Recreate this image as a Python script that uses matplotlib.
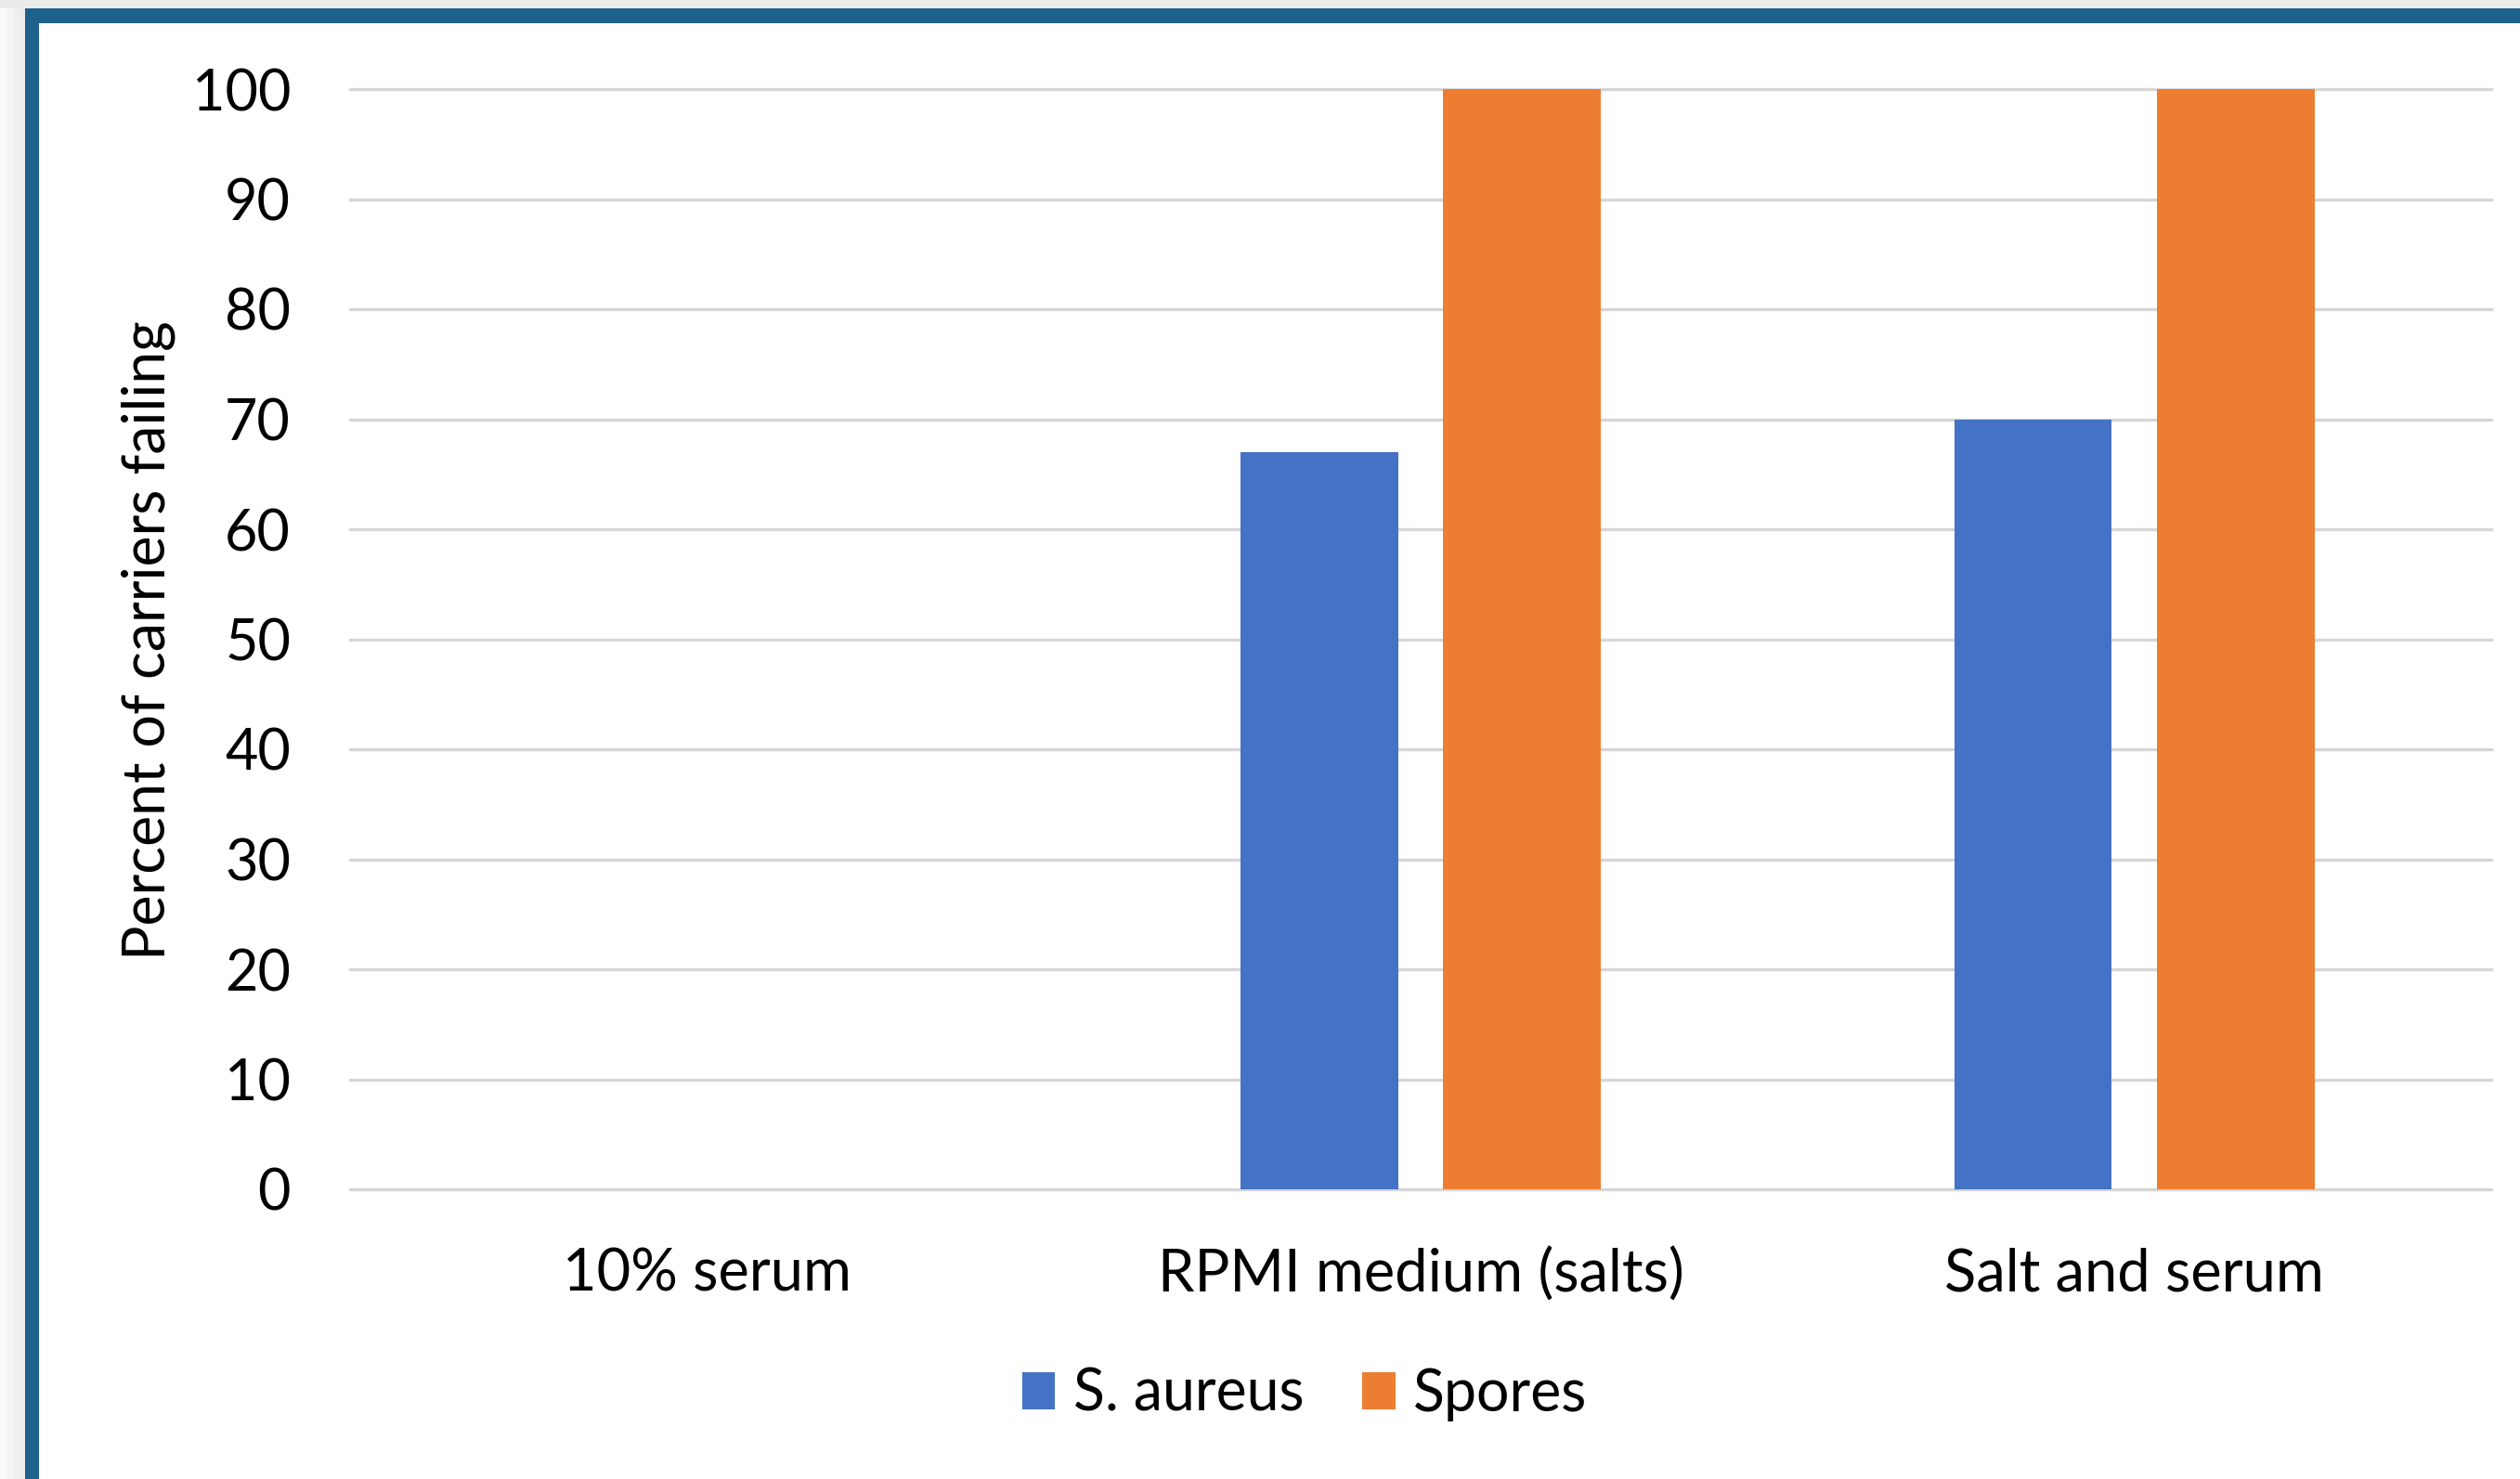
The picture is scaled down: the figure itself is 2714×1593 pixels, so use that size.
import matplotlib
matplotlib.use("Agg")
import matplotlib.pyplot as plt
import numpy as np
from matplotlib.patches import Rectangle

plt.rcParams["font.family"] = ["Lato", "DejaVu Sans"]

# carrier test results per suspending medium
CATEGORIES = ["10% serum", "RPMI medium (salts)", "Salt and serum"]
S_AUREUS = [0, 67, 70]
SPORES = [0, 100, 100]
SERIES = ["S. aureus", "Spores"]
YTICKS = list(range(0, 101, 10))

BLUE = "#4472C4"
ORANGE = "#ED7D31"
FRAME = "#1E628C"
GRID = "#d6d6d6"

W, H = 2714, 1593
fig = plt.figure(figsize=(W / 100, H / 100), dpi=100)
fig.patch.set_facecolor("white")

# page frame: grey strip, shadow and the blue border on top/left
deco = fig.add_axes([0, 0, 1, 1], zorder=-10)
deco.set_xlim(0, W)
deco.set_ylim(H, 0)
deco.axis("off")
deco.add_patch(Rectangle((0, 0), W, 9, facecolor="#ebebeb", edgecolor="none"))
for k, c in enumerate(["#fafafa", "#f5f5f5", "#f0f0f0", "#ebebeb"]):
    deco.add_patch(Rectangle((k * 7, 9), 7, H, facecolor=c, edgecolor="none"))
deco.add_patch(Rectangle((27, 9), W, 16, facecolor=FRAME, edgecolor="none"))
deco.add_patch(Rectangle((27, 9), 15, H, facecolor=FRAME, edgecolor="none"))

ax = fig.add_axes([377 / W, 312 / H, 2306 / W, 1185 / H])
x = np.arange(len(CATEGORIES))
bw = 0.221
off = 0.142
b1 = ax.bar(x - off, S_AUREUS, bw, color=BLUE, zorder=3, label=SERIES[0])
b2 = ax.bar(x + off, SPORES, bw, color=ORANGE, zorder=3, label=SERIES[1])

ax.set_xlim(-0.5, len(CATEGORIES) - 0.5)
ax.set_ylim(0, 100)
ax.set_yticks(YTICKS)
ax.set_xticks(x)
ax.set_xticklabels(CATEGORIES)
ax.tick_params(axis="both", length=0, colors="black")
ax.tick_params(axis="y", pad=46, labelsize=44)
ax.tick_params(axis="x", pad=45, labelsize=45.5)
for s in ax.spines.values():
    s.set_visible(False)
ax.yaxis.grid(True, color=GRID, linewidth=2.4, zorder=0)
for ln in ax.get_ygridlines():
    ln.set_clip_on(False)
ax.set_axisbelow(True)

fig.text(160 / W, 1 - 690 / H, "Percent of carriers failing", rotation=90,
         ha="center", va="center", fontsize=45)

fig.legend(handles=[b1, b2], labels=SERIES, loc="center",
           bbox_to_anchor=(1405 / W, 91 / H), ncol=2, frameon=False,
           fontsize=45, handlelength=0.57, handleheight=0.6,
           handletextpad=0.31, columnspacing=1.0, borderpad=0)

fig.savefig("out.png", dpi=100, facecolor="white")
